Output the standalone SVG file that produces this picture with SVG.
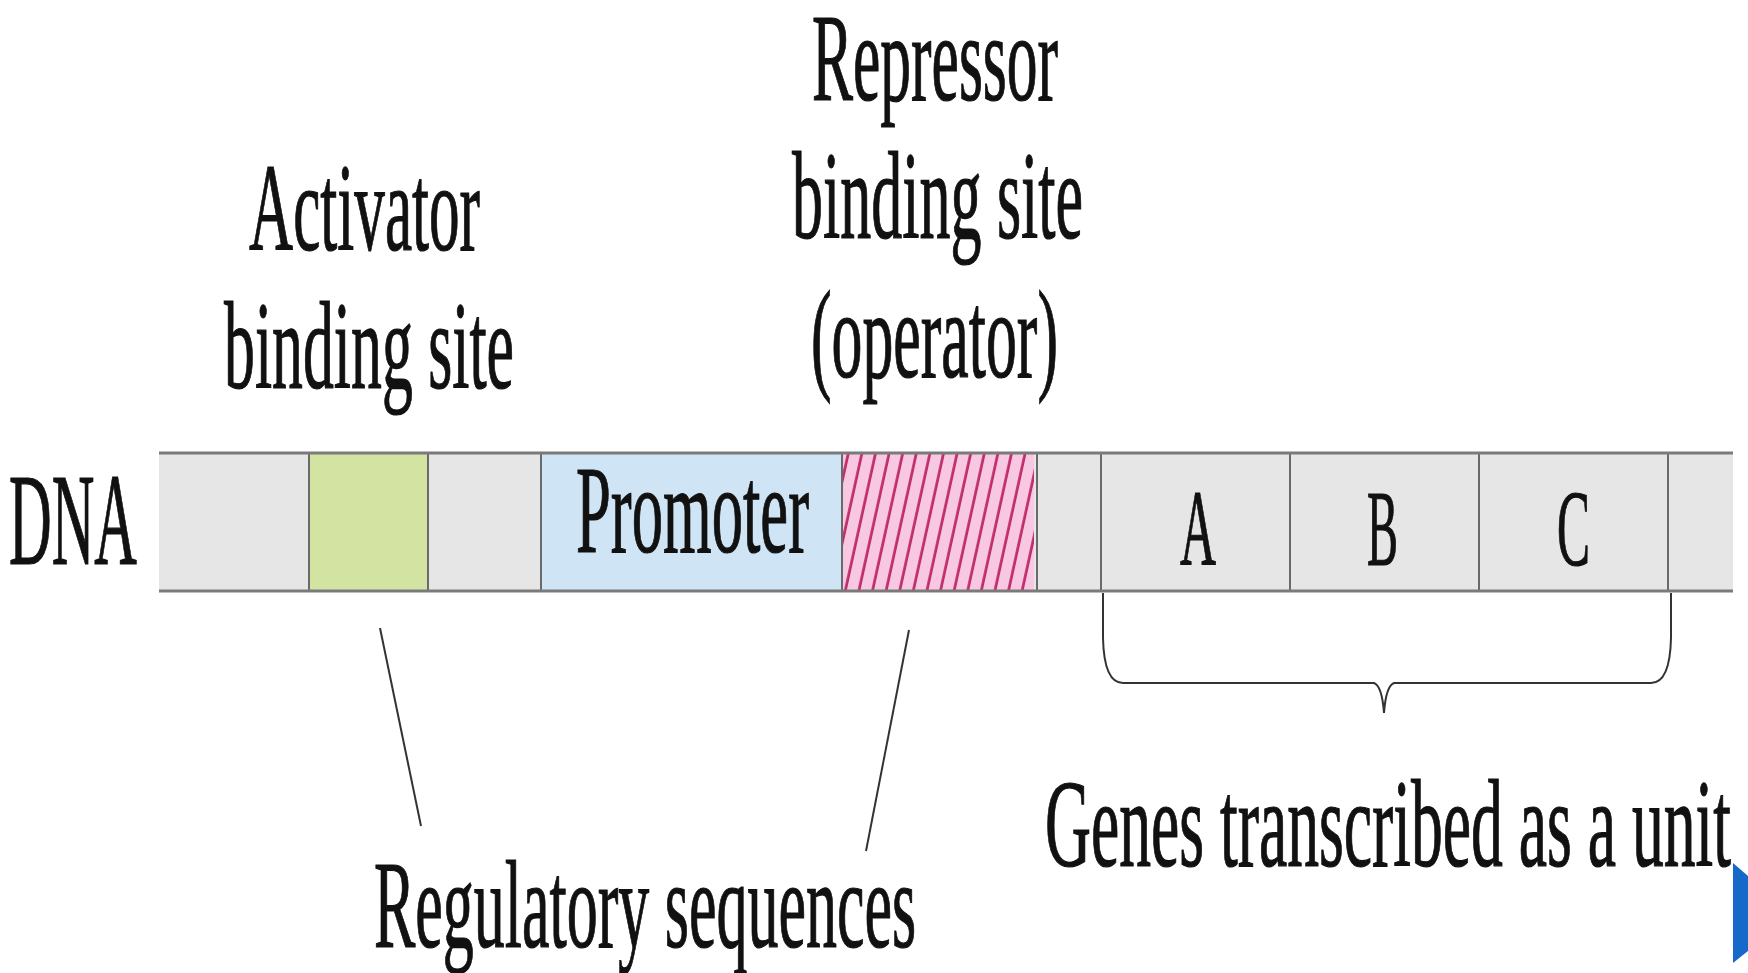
<svg xmlns="http://www.w3.org/2000/svg" width="1748" height="973" viewBox="0 0 1748 973">
  <style>
    .lbl { font-family: "Liberation Serif", "DejaVu Serif", serif; fill: #111; stroke: #111; stroke-width: 1.2px; font-size: 124px; }
    .gene { font-family: "Liberation Serif", "DejaVu Serif", serif; fill: #111; stroke: #111; stroke-width: 1.2px; font-size: 108px; }
    .div { stroke: #6a6a6a; stroke-width: 2; }
    .edge { stroke: #7a7a7a; stroke-width: 3; }
    .conn { stroke: #333; stroke-width: 2; fill: none; }
  </style>
  <defs>
    <pattern id="hatch" width="13.6" height="20" patternUnits="userSpaceOnUse" patternTransform="translate(842 453) skewX(-12.4)">
      <rect width="13.6" height="20" fill="#f8c8e2"/>
      <rect x="5" width="2.8" height="20" fill="#bf2d6a"/>
    </pattern>
  </defs>
  <rect width="1748" height="973" fill="#ffffff"/>

  <g id="dna-bar">
    <rect x="159" y="453" width="1574" height="139" fill="#e6e6e6"/>
    <g id="activator-site"><rect x="309" y="453" width="119" height="139" fill="#d2e3a2"/></g>
    <g id="promoter"><rect x="541" y="453" width="301" height="139" fill="#cfe5f5"/>
      <text class="lbl" x="576" y="552" textLength="233" lengthAdjust="spacingAndGlyphs">Promoter</text></g>
    <g id="operator"><rect x="842" y="453" width="192" height="139" fill="url(#hatch)"/></g>
    <line class="div" x1="309" y1="453" x2="309" y2="592"/>
    <line class="div" x1="428" y1="453" x2="428" y2="592"/>
    <line class="div" x1="541" y1="453" x2="541" y2="592"/>
    <line class="div" x1="842" y1="453" x2="842" y2="592" stroke="#8a4a6a"/>
    <line class="div" x1="1037" y1="453" x2="1037" y2="592"/>
    <line class="div" x1="1101" y1="453" x2="1101" y2="592"/>
    <line class="div" x1="1290" y1="453" x2="1290" y2="592"/>
    <line class="div" x1="1479" y1="453" x2="1479" y2="592"/>
    <line class="div" x1="1668" y1="453" x2="1668" y2="592"/>
    <line class="edge" x1="159" y1="453" x2="1733" y2="453"/>
    <line class="edge" x1="159" y1="591" x2="1733" y2="591"/>
    <g id="gene-a"><text class="gene" x="1180" y="565" textLength="36" lengthAdjust="spacingAndGlyphs">A</text></g>
    <g id="gene-b"><text class="gene" x="1367" y="565" textLength="31" lengthAdjust="spacingAndGlyphs">B</text></g>
    <g id="gene-c"><text class="gene" x="1557" y="565" textLength="33" lengthAdjust="spacingAndGlyphs">C</text></g>
  </g>

  <g id="dna-label">
    <text class="lbl" x="9" y="564" style="font-size:132px" textLength="128" lengthAdjust="spacingAndGlyphs">DNA</text>
  </g>

  <g id="activator-label">
    <text class="lbl" x="249" y="250" textLength="231" lengthAdjust="spacingAndGlyphs">Activator</text>
    <text class="lbl" x="224" y="388" textLength="290" lengthAdjust="spacingAndGlyphs">binding site</text>
  </g>

  <g id="repressor-label">
    <text class="lbl" x="812" y="100" textLength="246" lengthAdjust="spacingAndGlyphs">Repressor</text>
    <text class="lbl" x="792" y="238" textLength="291" lengthAdjust="spacingAndGlyphs">binding site</text>
    <text class="lbl" x="811" y="377" textLength="247" lengthAdjust="spacingAndGlyphs">(operator)</text>
  </g>

  <g id="regulatory-label">
    <text class="lbl" x="374" y="947" textLength="542" lengthAdjust="spacingAndGlyphs">Regulatory sequences</text>
  </g>

  <g id="genes-label">
    <text class="lbl" x="1045" y="866" textLength="686" lengthAdjust="spacingAndGlyphs">Genes transcribed as a unit</text>
  </g>

  <g id="connectors">
    <line class="conn" x1="380" y1="628" x2="421" y2="826"/>
    <line class="conn" x1="909" y1="630" x2="866" y2="851"/>
    <path class="conn" stroke="#444" stroke-width="2.5" d="M1103 593 L1103 638 Q1104 683 1123 683 L1374 683 Q1382 686 1384 713 Q1386 686 1394 683 L1651 683 Q1670 683 1671 638 L1671 593"/>
  </g>

  <g id="corner-shape">
    <polygon points="1733,863 1748,876 1748,951 1733,963" fill="#1769c9"/>
  </g>
</svg>
